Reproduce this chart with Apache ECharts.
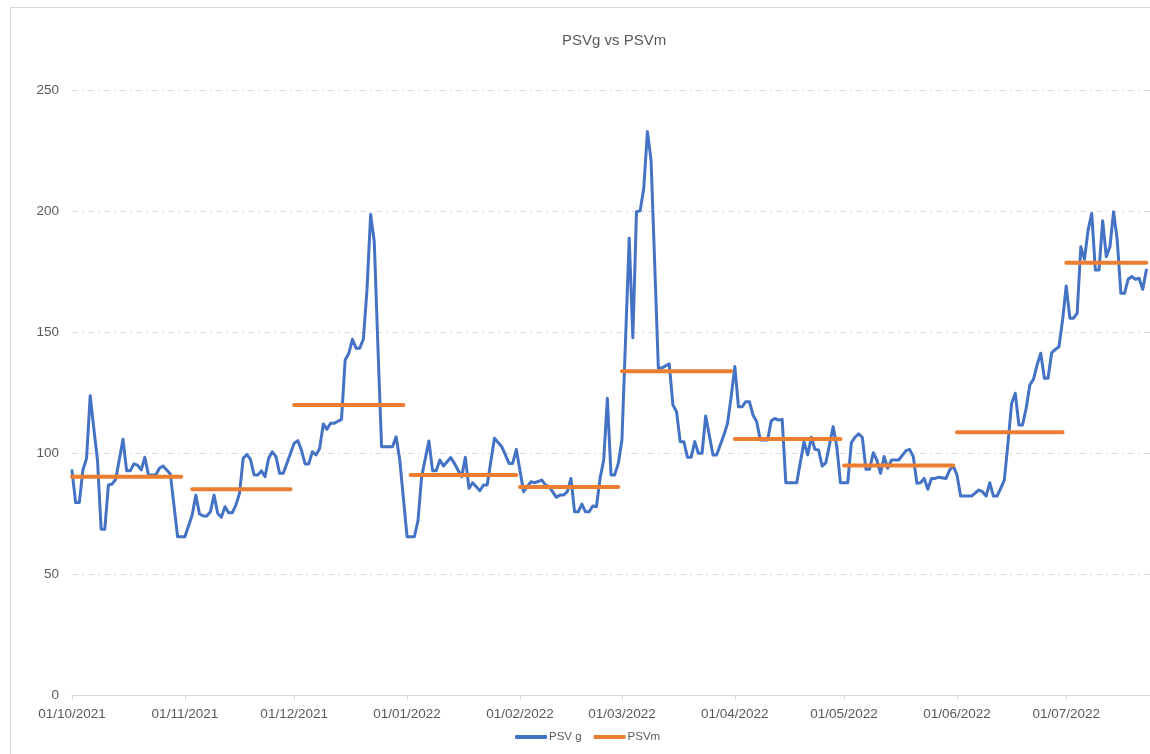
<!DOCTYPE html>
<html><head><meta charset="utf-8">
<script src="https://cdn.jsdelivr.net/npm/echarts@6/dist/echarts.min.js"></script>
<style>html,body{margin:0;padding:0;background:#fff}#c{width:1150px;height:754px}</style>
</head><body><div id="c"></div>
<script>
// Day offsets counted from 01/10/2021
const startDate = '2021-10-01';
const tickDays = [0, 31, 61, 92, 123, 151, 182, 212, 243, 273];
const tickLabels = ['01/10/2021','01/11/2021','01/12/2021','01/01/2022','01/02/2022','01/03/2022','01/04/2022','01/05/2022','01/06/2022','01/07/2022'];

const psvgDays = [0,1,2,3,4,5,6,7,8,9,10,11,12,14,15,16,17,18,19,20,21,23,24,25,26,27,29,31,33,34,35,36,37,38,39,40,41,42,43,44,45,46,47,48,49,50,51,52,53,54,55,56,57,58,59,61,62,63,64,65,66,67,68,69,70,71,72,74,75,76,77,78,79,80,81,82,83,84,85,88,89,90,92,94,95,96,98,99,100,101,102,104,105,107,108,109,110,112,113,114,116,118,119,120,121,122,124,126,127,129,130,131,133,134,135,136,137,138,139,140,141,142,143,144,145,146,147,148,149,150,151,153,154,155,156,157,158,159,161,162,164,165,166,167,168,169,170,171,172,173,174,176,177,179,180,181,182,183,184,185,186,187,188,189,191,192,193,194,195,196,199,201,202,203,204,205,206,207,209,210,211,213,214,215,216,217,218,219,220,221,222,223,224,225,227,229,230,231,232,233,234,235,236,237,238,240,241,242,243,244,247,249,250,251,252,253,254,255,256,257,258,259,260,261,262,263,264,265,266,267,268,269,270,271,272,273,274,275,276,277,278,279,280,281,282,283,284,285,286,287,288,289,290,291,292,293,294,295];
const psvgValues = [92.7,79.5,79.5,93,97.8,123.7,110,97,68.5,68.5,86.8,87.2,89.1,105.7,92.7,92.7,95.5,95,93,98.2,90.9,90.9,93.7,94.6,93,91.3,65.4,65.4,74.4,82.6,74.8,74,74,75.7,82.6,75.1,73.4,77.8,75.3,75.3,78.5,83.3,97.8,99.4,97.4,90.9,90.9,92.6,90.2,97.8,100.5,98.5,91.6,91.6,95.7,104,105.1,101.2,95.5,95.5,100.5,99.2,101.9,112,109.8,112.3,112.3,113.9,138.4,141.2,147,143.3,143.3,147,167.4,198.6,187.3,143.9,102.6,102.6,106.7,97.1,65.4,65.4,72,90.2,105,92.7,92.7,97.1,94.6,98.1,95.7,90.2,98.2,85.4,87.7,84.4,86.8,86.8,106.1,102.6,99.2,95.7,95.7,101.5,84,88.1,87.7,88.8,86.8,86.1,81.7,82.6,82.6,84,89.5,75.7,75.7,78.9,75.7,75.7,78.1,77.8,89.5,97.1,122.6,90.9,90.9,95.7,105.4,188.7,147.6,199.7,200.1,209.4,232.8,221,135,135.2,136.8,119.8,117.1,104.7,104.7,98.2,98.2,104.7,99.9,99.9,115.3,99.2,99.2,107.4,112.3,123.3,135.7,119.1,119.1,121.2,121.2,115.7,112.9,105.4,105.4,113.3,114.3,113.6,113.9,87.7,87.7,104.7,99.2,106.5,101.5,101.2,94.6,96,110.9,102.6,87.7,87.7,104.3,106.5,107.9,106.5,93.3,93.3,100.1,97.1,91.6,98.5,93.7,97.1,97.1,101,101.5,98.5,87.5,87.7,89.5,85,89.5,89.5,90,89.5,93,94.6,90.9,82.2,82.2,84.7,84,82.2,87.7,82.2,82.2,85.4,88.8,104,120.5,124.7,111.6,111.6,118.5,128.1,130.4,136.4,141.2,130.9,130.9,141.4,142.8,143.9,155,169,155.7,155.7,157.7,185.2,180,192.1,199,175.6,175.6,196,181.1,185.2,199.7,188,166,166,171.8,172.9,171.8,172.2,167.6,175.6];

const psvmStartDays = [0, 33, 61, 93, 123, 151, 182, 212, 243, 273];
const psvmEndDays   = [30, 60, 91, 122, 150, 181, 211, 242, 272, 295];
const psvmValues    = [90.2, 85.0, 119.8, 90.9, 86.0, 133.8, 105.8, 94.8, 108.6, 178.6];

const psvgData = psvgDays.map((d, i) => [d, psvgValues[i]]);
const psvmData = [];
psvmValues.forEach((v, i) => {
  psvmData.push([psvmStartDays[i], v]);
  psvmData.push([psvmEndDays[i], v]);
  psvmData.push([psvmEndDays[i] + 0.5, '-']);
});

const FONT = '"Liberation Sans", Arial, sans-serif';
const chart = echarts.init(document.getElementById('c'));
chart.setOption({
  animation: false,
  backgroundColor: '#ffffff',
  title: {
    text: 'PSVg vs PSVm', left: 557, top: 28,
    textStyle: { fontFamily: FONT, fontSize: 15, fontWeight: 'normal', color: '#595959' }
  },
  graphic: [{
    type: 'rect', silent: true, z: -10,
    shape: { x: 10.5, y: 7.5, width: 1300, height: 1000 },
    style: { fill: 'none', stroke: '#d9d9d9', lineWidth: 1 }
  }],
  legend: {
    left: 515, top: 731, padding: 0,
    icon: 'roundRect', itemWidth: 32, itemHeight: 4, itemGap: 12,
    textStyle: { fontFamily: FONT, fontSize: 11.5, color: '#595959', padding: [0, 0, 0, -3] },
    data: ['PSV g', 'PSVm']
  },
  grid: { left: 72, right: 0, top: 90, bottom: 59, containLabel: false },
  xAxis: {
    type: 'value', min: 0, max: 296,
    axisLine: { show: true, lineStyle: { color: '#d9d9d9', width: 1 } },
    axisTick: { show: true, customValues: tickDays, length: 5, lineStyle: { color: '#d9d9d9' } },
    axisLabel: {
      customValues: tickDays, margin: 12.5, fontFamily: FONT, fontSize: 13.5, color: '#595959',
      formatter: v => tickLabels[tickDays.indexOf(v)] || ''
    },
    splitLine: { show: false }
  },
  yAxis: {
    type: 'value', min: 0, max: 250, interval: 50,
    axisLine: { show: false }, axisTick: { show: false },
    axisLabel: { margin: 13, fontFamily: FONT, fontSize: 13.5, color: '#595959' },
    splitLine: { show: true, lineStyle: { color: '#d9d9d9', width: 1, type: [6, 4, 2, 4] } }
  },
  series: [
    {
      name: 'PSV g', type: 'line', data: psvgData, showSymbol: false, symbol: 'none',
      lineStyle: { color: '#4472C4', width: 3, join: 'round', cap: 'round' },
      itemStyle: { color: '#4472C4' }, z: 2
    },
    {
      name: 'PSVm', type: 'line', data: psvmData, showSymbol: false, symbol: 'none', connectNulls: false,
      lineStyle: { color: '#ED7D31', width: 4, cap: 'round' },
      itemStyle: { color: '#ED7D31' }, z: 3
    }
  ]
});
</script>
</body></html>
